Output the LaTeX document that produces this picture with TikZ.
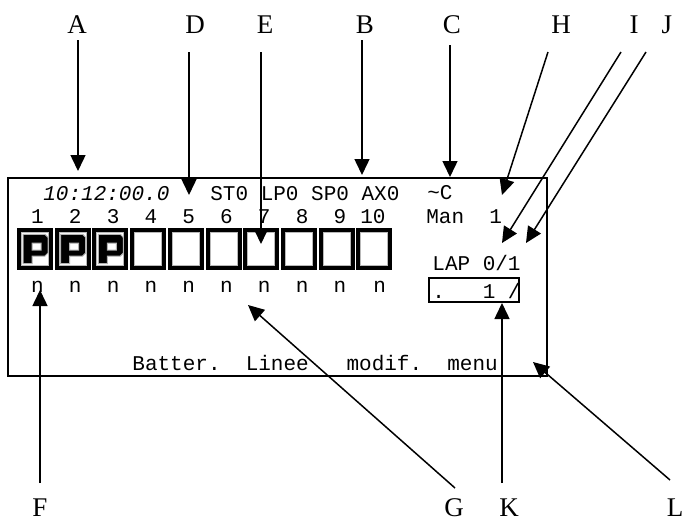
\documentclass[tikz,border=0pt]{standalone}
\usepackage{fontspec}
\setmainfont{Liberation Serif}
\setmonofont{Liberation Mono}
\usetikzlibrary{arrows.meta}
\begin{document}
\begin{tikzpicture}[x=0.5pt,y=-0.5pt,
  lbl/.style={font=\fontsize{13.5}{14}\selectfont, inner sep=0pt, anchor=base},
  mono/.style={font=\fontsize{10.5}{12}\selectfont\ttfamily, inner sep=0pt, anchor=base west},
  monoi/.style={font=\fontsize{10.5}{12}\selectfont\ttfamily\itshape, inner sep=0pt, anchor=base west},
  monoc/.style={font=\fontsize{10.5}{12}\selectfont\ttfamily, inner sep=0pt, anchor=base},
  arr/.style={line width=0.75pt, -{Triangle[length=8pt,width=7.5pt]}},
  cellframe/.style={fill=black},
  cellring/.style={fill=gray!55},
  pglyph/.style={fill=black, draw=gray!60, line width=0.5pt, even odd rule},
  ]
\useasboundingbox (0,0) rectangle (682,520);

% display frame
\draw[line width=1pt] (8,178) rectangle (547,376);

% cells
\foreach \i in {0,...,9} {
  \pgfmathsetmacro\xl{17+37.7*\i}
  \fill[cellframe] (\xl,228) rectangle ++(36,42);
  \fill[cellring] (\xl+4,232) rectangle ++(28,34);
  \fill[white] (\xl+5,233) rectangle ++(26,32);
}
\foreach \i in {0,1,2} {
  \pgfmathsetmacro\xl{17+37.7*\i}
  \begin{scope}[shift={(\xl,228)}]
    \filldraw[pglyph] (6,6.3) -- (28,6.3) -- (31,9.5) -- (31,25) -- (28,28) -- (15,28) -- (15,35.7) -- (6,35.7) -- cycle
      (15,15) -- (24,15) -- (24,22) -- (15,22) -- cycle;
  \end{scope}
}

% display texts
\node[monoi] (time) at (43,200) {10:12:00.0};
\node[mono] (status) at (210,200) {ST0\ LP0\ SP0\ AX0};
\node[mono] (tc) at (427,199) {\textasciitilde C};
\foreach \i in {1,...,9} {
  \node[monoc] (d\i) at ({37.5+37.8*(\i-1)},223) {\i};
  \node[monoc] (n\i) at ({37.5+37.8*(\i-1)},292) {n};
}
\node[monoc] (d10) at (373,223) {10};
\node[monoc] (n10) at (379.7,292) {n};
\node[mono] (man) at (426,223) {Man\ \ 1};
\node[mono] (lap) at (432,270) {LAP 0/1};
\node[draw, line width=1pt, inner sep=0pt, minimum width=45pt, minimum height=12pt, anchor=north west] (box) at (428,277) {};
\node[mono] (val) at (432,298) {.\ \ \ 1 /};
\node[mono] (menu) at (132,370) {Batter.\ \ Linee\ \ \ modif.\ \ menu};

% labels
\node[lbl] (A) at (77,33) {A};
\node[lbl] (D) at (195,33) {D};
\node[lbl] (E) at (265,33) {E};
\node[lbl] (B) at (365,33) {B};
\node[lbl] (C) at (452,33) {C};
\node[lbl] (H) at (561,33) {H};
\node[lbl] (I) at (634,33) {I};
\node[lbl] (J) at (667,33) {J};
\node[lbl] (F) at (40,516) {F};
\node[lbl] (G) at (454,516) {G};
\node[lbl] (K) at (509,516) {K};
\node[lbl] (L) at (675,516) {L};

% arrow ends
\coordinate (As) at (78,40);   \coordinate (At) at (78,171);
\coordinate (Ds) at (189,52);  \coordinate (Dt) at (189,195);
\coordinate (Es) at (261,52);  \coordinate (Et) at (261,244);
\coordinate (Bs) at (362,40);  \coordinate (Bt) at (362,175);
\coordinate (Cs) at (450,45);  \coordinate (Ct) at (450,177);
\coordinate (Hs) at (548,52);  \coordinate (Ht) at (502,195);
\coordinate (Is) at (621,52);  \coordinate (It) at (502,243);
\coordinate (Js) at (646,52);  \coordinate (Jt) at (526,243);
\coordinate (Fs) at (40,483);  \coordinate (Ft) at (40,290);
\coordinate (Gs) at (455,488); \coordinate (Gt) at (248,305);
\coordinate (Ks) at (502,483); \coordinate (Kt) at (502,303);
\coordinate (Ls) at (670,480); \coordinate (Lt) at (533,362);

\foreach \p in {A,D,E,B,C,H,I,J,F,G,K,L}
  \draw[arr] (\p s) -- (\p t);
\end{tikzpicture}
\end{document}
